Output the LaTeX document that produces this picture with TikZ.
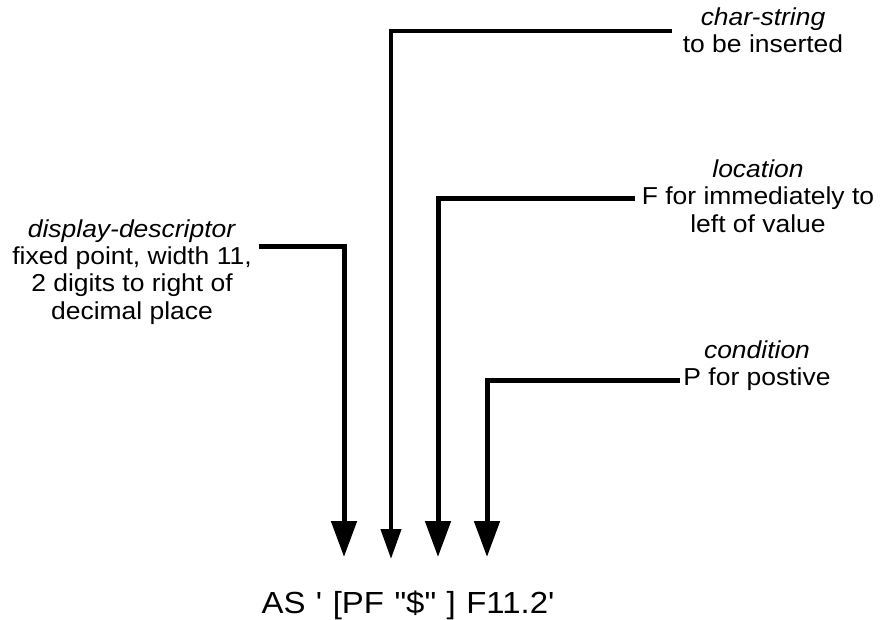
\documentclass[tikz,border=0pt]{standalone}
\usepackage{fontspec}
\setmainfont{Liberation Sans}[FakeStretch=1.08,Ligatures=TeXReset]
\usetikzlibrary{arrows.meta}
\begin{document}
\begin{tikzpicture}[x=1pt,y=-1pt,
  lbl/.style={inner sep=0pt,outer sep=0pt,align=center,font=\fontsize{24.5}{27.3}\selectfont},
  thickarrow/.style={line width=5pt,line join=miter,-{Triangle[width=25pt,length=36pt]}},
  thinarrow/.style={line width=4.2pt,line join=miter,-{Triangle[width=20pt,length=30pt]}}]
\useasboundingbox (0,0) rectangle (881,620);
\node[lbl] (dd) at (132,272) {\textit{display-descriptor}\\fixed point, width 11,\\2 digits to right of\\decimal place};
\node[lbl] (cs) at (763,30) {\textit{char-string}\\to be inserted};
\node[lbl] (loc) at (758,196) {\textit{location}\\F for immediately to\\left of value};
\node[lbl] (cond) at (757,366) {\textit{condition}\\P for postive};
\node[inner sep=0pt,anchor=base,font=\fontsize{30.5}{34}\selectfont] (expr) at (408,613) {\spaceskip=10.5pt AS ' [PF "\$" ] F11.2'};
\coordinate (s1) at (259,247); \coordinate (e1) at (344,557);
\coordinate (s2) at (672,31);  \coordinate (e2) at (391,559);
\coordinate (s3) at (635,199); \coordinate (e3) at (438,557);
\coordinate (s4) at (680,380); \coordinate (e4) at (487,557);
\draw[thickarrow] (s1) -| (e1);
\draw[thinarrow] (s2) -| (e2);
\draw[thickarrow] (s3) -| (e3);
\draw[thickarrow] (s4) -| (e4);
\end{tikzpicture}
\end{document}
